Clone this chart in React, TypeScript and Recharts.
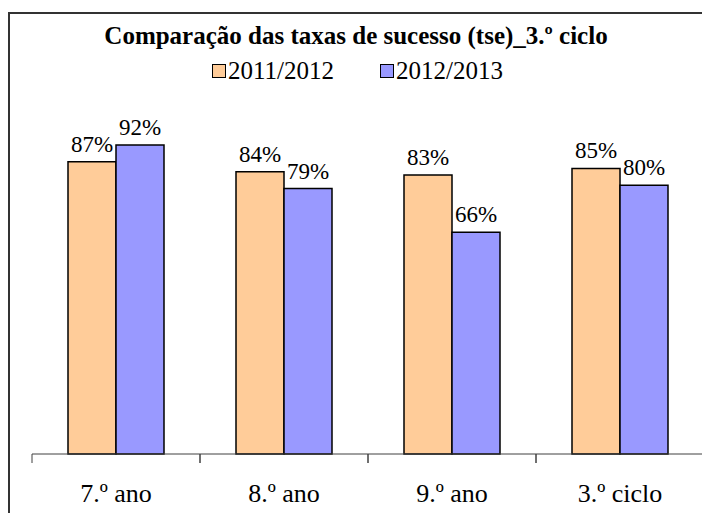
import { Bar, BarChart, LabelList, XAxis, YAxis } from "recharts";

const categories = ["7.º ano", "8.º ano", "9.º ano", "3.º ciclo"];
const series2011 = [0.87, 0.84, 0.83, 0.85];
const series2012 = [0.92, 0.79, 0.66, 0.8];
const seriesNames = ["2011/2012", "2012/2013"];
const seriesColors = ["#FFCC99", "#9999FF"];

const data = categories.map((name, i) => ({
  name,
  a: series2011[i],
  b: series2012[i],
}));

const FONT = "Times New Roman";
const PLOT_W = 672;
const BAND = PLOT_W / categories.length;

function CatTick(props: any) {
  const { x, y, payload } = props;
  const left = x - BAND / 2;
  return (
    <g>
      <line x1={left} x2={left} y1={y} y2={y + 9} stroke="#404040" strokeWidth={1} />
      <line x1={left + BAND} x2={left + BAND} y1={y} y2={y + 9} stroke="#404040" strokeWidth={1} />
      <text x={x} y={y + 48} textAnchor="middle" style={{ fontFamily: FONT, fontSize: 26 }} fill="#000">
        {payload.value}
      </text>
    </g>
  );
}

function LegendBox() {
  return (
    <div
      style={{
        position: "absolute",
        left: 212,
        top: 56,
        display: "flex",
        alignItems: "center",
        fontFamily: FONT,
        fontSize: 25,
        lineHeight: "30px",
      }}
    >
      {seriesNames.map((n, i) => (
        <div key={n} style={{ display: "flex", alignItems: "center", marginRight: 46 }}>
          <span
            style={{
              display: "inline-block",
              width: 12,
              height: 12,
              background: seriesColors[i],
              border: "1px solid #000",
              marginRight: 2,
            }}
          />
          <span>{n}</span>
        </div>
      ))}
    </div>
  );
}

const pct = (v: any) => `${Math.round(Number(v) * 100)}%`;

export default function App() {
  return (
    <div
      style={{
        position: "absolute",
        left: 0,
        top: 0,
        width: 702,
        height: 513,
        overflow: "hidden",
        background: "#fff",
        fontFamily: FONT,
      }}
    >
      <div
        style={{
          position: "absolute",
          left: 8,
          top: 12,
          width: 720,
          height: 540,
          border: "2px solid #333",
          boxSizing: "border-box",
        }}
      />
      <div
        style={{
          position: "absolute",
          left: 0,
          top: 21,
          width: 712,
          textAlign: "center",
          fontFamily: FONT,
          fontWeight: "bold",
          fontSize: 25,
          lineHeight: "30px",
        }}
      >
        Comparação das taxas de sucesso (tse)_3.º ciclo
      </div>
      <LegendBox />
      <div style={{ position: "absolute", left: 0, top: 0 }}>
        <BarChart
          width={712}
          height={513}
          data={data}
          margin={{ top: 118, right: 8, left: 32, bottom: 0 }}
          barCategoryGap={36}
          barGap={0}
          style={{ fontFamily: FONT }}
        >
          <YAxis hide domain={[0, 1]} />
          <XAxis
            dataKey="name"
            height={59}
            tickSize={0}
            tickMargin={0}
            tickLine={false}
            axisLine={{ stroke: "#404040", strokeWidth: 1 }}
            tick={<CatTick />}
            interval={0}
          />
          <Bar dataKey="a" name={seriesNames[0]} fill={seriesColors[0]} stroke="#000" strokeWidth={1.5} isAnimationActive={false}>
            <LabelList dataKey="a" position="top" offset={10} formatter={pct} style={{ fontFamily: FONT, fontSize: 23, fill: "#000" }} />
          </Bar>
          <Bar dataKey="b" name={seriesNames[1]} fill={seriesColors[1]} stroke="#000" strokeWidth={1.5} isAnimationActive={false}>
            <LabelList dataKey="b" position="top" offset={10} formatter={pct} style={{ fontFamily: FONT, fontSize: 23, fill: "#000" }} />
          </Bar>
        </BarChart>
      </div>
    </div>
  );
}
